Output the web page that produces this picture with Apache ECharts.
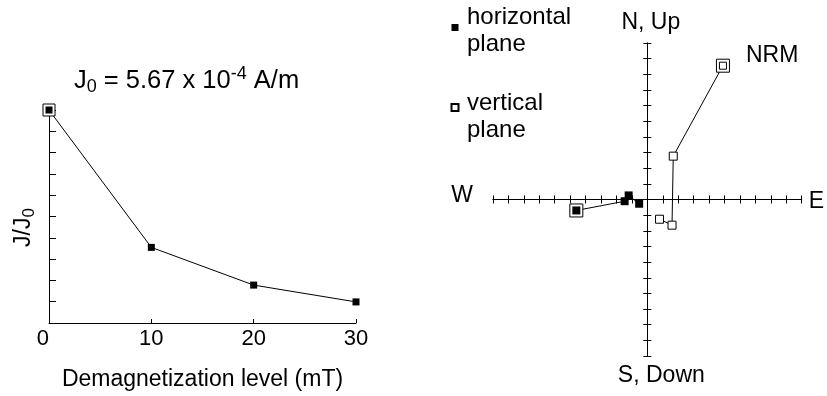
<!DOCTYPE html>
<html>
<head>
<meta charset="utf-8">
<script src="https://cdn.jsdelivr.net/npm/echarts@6/dist/echarts.min.js"></script>
<style>
  html, body { margin: 0; padding: 0; background: #fff; }
  #chart { width: 827px; height: 396px; }
</style>
</head>
<body>
<div id="chart"></div>
<script>
// Remanence decay under alternating-field demagnetization
const demagLevels = [0, 10, 20, 30];                 // mT
const intensityRatio = [1.0, 0.355, 0.178, 0.099];   // J / J0
const xTickLabels = ['0', '10', '20', '30'];
const j0Mantissa = '5.67';
const j0Exponent = '-4';

// Orthogonal vector projection: NRM, then 10, 20, 30 mT steps
const horizontalE = [-4.6, -1.47, -1.21, -0.53];
const horizontalN = [-0.70, -0.11, 0.26, -0.27];
const verticalE = [4.9, 1.68, 1.60, 0.79];
const verticalUp = [8.55, 2.77, -1.64, -1.26];

const FONT = '"Liberation Sans", Arial, Helvetica, sans-serif';
const INK = '#000';

const zip = (a, b) => a.map((v, i) => [v, b[i]]);
const decayPts = zip(demagLevels, intensityRatio);
const horizPts = zip(horizontalE, horizontalN);
const vertPts = zip(verticalE, verticalUp);

const lineAxis = { lineStyle: { color: INK, width: 1 } };
const txt = (size, extra) => Object.assign({ fontFamily: FONT, fontSize: size, color: INK, fontWeight: 'normal' }, extra);

function projAxis(extra) {
  return Object.assign({
    type: 'value', gridIndex: 1, min: -10, max: 10, interval: 1,
    axisLine: { onZero: true, lineStyle: { color: INK, width: 1 } },
    axisLabel: { show: false },
    splitLine: { show: false },
    nameTextStyle: txt(23)
  }, extra);
}

const legendText = {
  'horizontal plane': '{e1| }\n{t|horizontal}\n{t|plane}',
  'vertical plane': '{e2| }\n{t|vertical}\n{t|plane}'
};

const chart = echarts.init(document.getElementById('chart'), null, { renderer: 'canvas' });

chart.setOption({
  backgroundColor: '#fff',
  animation: false,
  title: {
    text: '{a|J}{s|0}{a| = ' + j0Mantissa + ' x 10}{p|' + j0Exponent + '}{a| A/m}',
    left: 74, top: 65, padding: 0,
    textStyle: {
      fontWeight: 'normal',
      rich: {
        a: txt(25.5, { lineHeight: 31 }),
        s: txt(18, { verticalAlign: 'bottom', lineHeight: 31 }),
        p: txt(18, { verticalAlign: 'top', lineHeight: 31 })
      }
    }
  },
  legend: {
    orient: 'vertical', left: 450.5, top: 0, padding: 0,
    itemWidth: 7, itemHeight: 7, itemGap: 24,
    selectedMode: false,
    formatter: name => legendText[name],
    textStyle: {
      rich: {
        t: txt(24, { lineHeight: 27, padding: [0, 0, 0, 3.5] }),
        e1: txt(1, { lineHeight: 6 }),
        e2: txt(1, { lineHeight: 19 })
      }
    },
    data: ['horizontal plane', 'vertical plane']
  },
  grid: [
    { left: 49, top: 110, width: 307, height: 215 },
    { left: 493, top: 43, width: 313, height: 313 }
  ],
  xAxis: [
    {
      type: 'value', gridIndex: 0, min: 0, max: 30, interval: 10,
      axisLine: lineAxis,
      axisTick: { inside: true, length: 4, lineStyle: { color: INK } },
      axisLabel: Object.assign(txt(22), {
        margin: 5, alignMinLabel: 'right',
        formatter: v => xTickLabels[demagLevels.indexOf(v)] ?? ''
      }),
      splitLine: { show: false },
      name: 'Demagnetization level (mT)', nameLocation: 'middle', nameGap: 45,
      nameTextStyle: txt(23)
    },
    projAxis({
      position: 'bottom',
      axisTick: { inside: true, length: 4, lineStyle: { color: INK } },
      name: 'E', nameLocation: 'end', nameGap: 7,
      nameTextStyle: txt(23, { verticalAlign: 'top', lineHeight: 5 })
    }),
    projAxis({
      position: 'bottom',
      axisTick: { inside: false, length: 4, lineStyle: { color: INK } },
      name: 'W', nameLocation: 'start', nameGap: 20,
      nameTextStyle: txt(23, { verticalAlign: 'bottom', lineHeight: 8 })
    })
  ],
  yAxis: [
    {
      type: 'value', gridIndex: 0, min: 0, max: 1, interval: 0.1,
      axisLine: lineAxis,
      axisTick: { inside: true, length: 7, lineStyle: { color: INK } },
      axisLabel: { show: false },
      splitLine: { show: false },
      name: '{a|J/J}{s|0}', nameLocation: 'middle', nameGap: 11, nameRotate: 90,
      nameTextStyle: {
        padding: [0, 22, 0, 0],
        rich: {
          a: txt(23, { lineHeight: 28 }),
          s: txt(17, { verticalAlign: 'bottom', lineHeight: 28 })
        }
      }
    },
    projAxis({
      position: 'left',
      axisTick: { inside: true, length: 4, lineStyle: { color: INK } },
      name: 'N, Up', nameLocation: 'end', nameGap: 9,
      nameTextStyle: txt(23, { padding: [0, 0, 0, 7] })
    }),
    projAxis({
      position: 'left',
      axisTick: { inside: false, length: 4, lineStyle: { color: INK } },
      name: 'S, Down', nameLocation: 'start', nameGap: 8,
      nameTextStyle: txt(23, { padding: [0, 0, 0, 28] })
    })
  ],
  series: [
    // decay curve
    { type: 'line', xAxisIndex: 0, yAxisIndex: 0, data: decayPts, symbol: 'none',
      lineStyle: { color: INK, width: 1 }, z: 2, silent: true },
    { type: 'scatter', xAxisIndex: 0, yAxisIndex: 0, data: [decayPts[0]], symbol: 'rect', symbolSize: 12,
      itemStyle: { color: '#fff', borderColor: INK, borderWidth: 1, opacity: 1 }, z: 3, silent: true },
    { type: 'scatter', xAxisIndex: 0, yAxisIndex: 0, data: decayPts, symbol: 'rect', symbolSize: 7,
      itemStyle: { color: INK, opacity: 1 }, z: 4, silent: true },

    // vector paths
    { type: 'line', xAxisIndex: 1, yAxisIndex: 1, data: horizPts, symbol: 'none',
      lineStyle: { color: INK, width: 1 }, z: 2, silent: true },
    { type: 'line', xAxisIndex: 1, yAxisIndex: 1, data: vertPts, symbol: 'none',
      lineStyle: { color: INK, width: 1 }, z: 2, silent: true },

    // NRM frames
    { type: 'scatter', xAxisIndex: 1, yAxisIndex: 1, data: [horizPts[0]], symbol: 'rect', symbolSize: 13,
      itemStyle: { color: '#fff', borderColor: INK, borderWidth: 1, opacity: 1 }, z: 3, silent: true },
    { type: 'scatter', xAxisIndex: 1, yAxisIndex: 1, data: [vertPts[0]], symbol: 'rect', symbolSize: 13,
      itemStyle: { color: '#fff', borderColor: INK, borderWidth: 1, opacity: 1 }, z: 3, silent: true,
      label: Object.assign(txt(23), { show: true, formatter: 'NRM', position: 'right', distance: 16, offset: [0, -10] }) },

    // projected points
    { name: 'horizontal plane', type: 'scatter', xAxisIndex: 1, yAxisIndex: 1, data: horizPts,
      symbol: 'rect', symbolSize: 8, itemStyle: { color: INK, opacity: 1 }, z: 4, silent: true },
    { name: 'vertical plane', type: 'scatter', xAxisIndex: 1, yAxisIndex: 1,
      data: vertPts.map((p, i) => i === 0 ? { value: p, symbolSize: 7 } : p),
      symbol: 'rect', symbolSize: 8,
      itemStyle: { color: '#fff', borderColor: INK, borderWidth: 1, opacity: 1 }, z: 4, silent: true }
  ]
});
</script>
</body>
</html>
